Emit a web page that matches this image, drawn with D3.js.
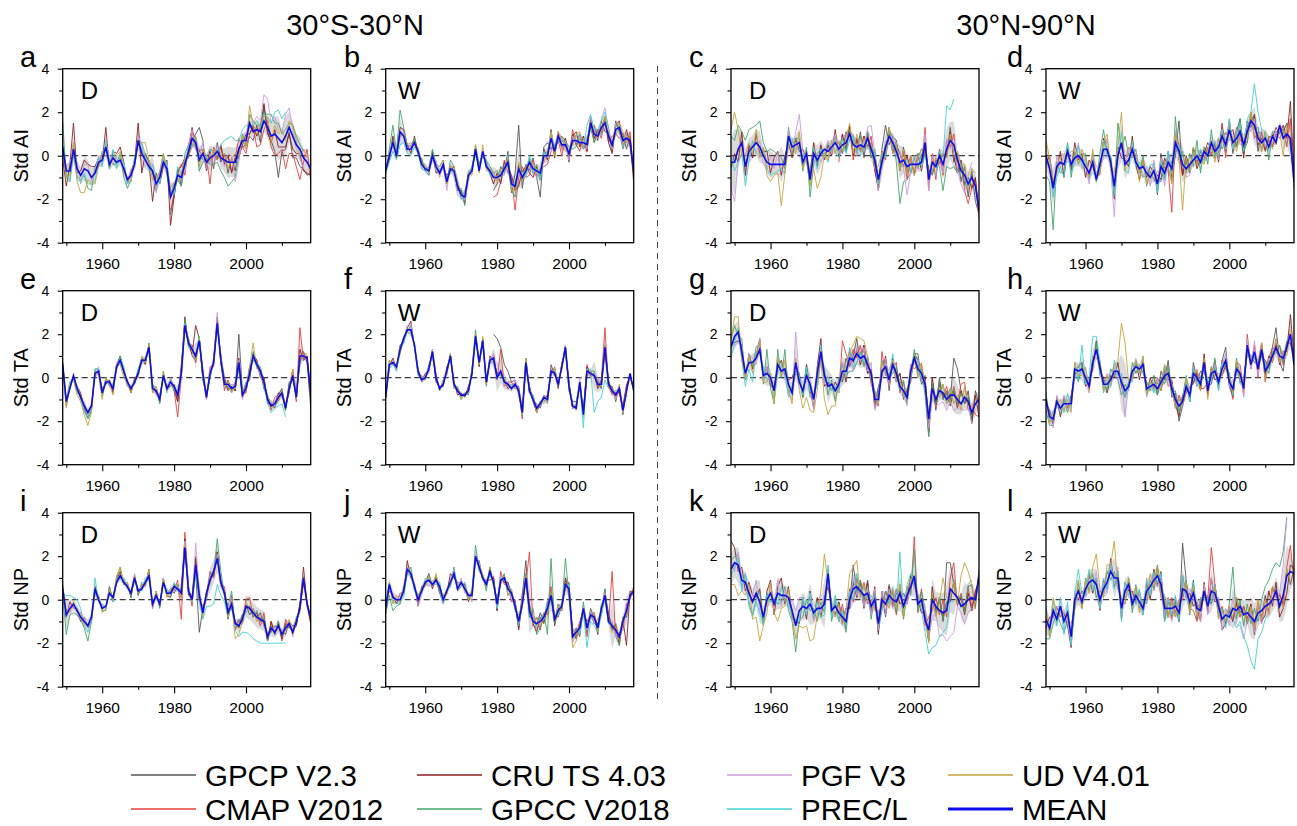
<!DOCTYPE html>
<html>
<head>
<meta charset="utf-8">
<script src="https://cdn.jsdelivr.net/npm/d3@7"></script>
<style>
body { margin: 0; background: #fff; }
svg text { font-family: "Liberation Sans", Arial, Helvetica, sans-serif; fill: #000; }
</style>
</head>
<body>
<div id="chart"></div>
<script>
var years = d3.range(1949, 2019);
var xMajor = [1960, 1980, 2000];
var xMinor = [1950, 1970, 1990, 2010];
var yMajor = [-4, -2, 0, 2, 4];
var yMinor = [-3, -1, 1, 3];
var regionTitles = ["30°S-30°N", "30°N-90°N"];
var rowTitles = ["Std AI", "Std TA", "Std NP"];
var seasons = ["D", "W", "D", "W"];
var letters = ["a", "b", "c", "d", "e", "f", "g", "h", "i", "j", "k", "l"];

var seriesNames = ["GPCP V2.3", "CMAP V2012", "CRU TS 4.03", "GPCC V2018", "PGF V3", "PREC/L", "UD V4.01"];
var seriesStart = [1979, 1979, 1949, 1949, 1949, 1949, 1949];
var seriesColors = ["#555555", "#e8403e", "#8c1f1f", "#3fa66d", "#c99be0", "#3fd3d1", "#c9a33a"];
var meanColor = "#0c0cee";

// MEAN of each panel, 1949-2018 (standardized units)
var a_mean = [0.4,-0.7,-0.7,0.3,-0.6,-0.9,-0.6,-0.7,-1.0,-0.8, -0.3,-0.2,0.4,-0.4,-0.1,-0.3,-0.2,-0.6,-1.1,-0.9, -0.4,0.7,0.1,-0.2,-0.5,-0.7,-1.3,-1.0,-0.3,-0.6, -1.9,-1.5,-0.9,-1.0,-0.4,0.2,0.8,0.6,-0.2,0.1, -0.3,-0.1,0.0,0.2,-0.1,-0.2,-0.3,-0.3,-0.3,0.3, 0.7,0.7,1.5,1.1,1.2,1.1,1.6,1.3,0.9,1.0, 0.8,0.6,0.9,1.3,0.9,0.5,0.3,-0.1,-0.3,-0.6];
var b_mean = [-0.7,0.0,0.6,0.0,1.1,0.9,0.3,0.3,0.6,0.2, -0.4,-0.6,-0.7,0.0,-0.5,-0.8,-0.4,-1.2,-0.6,-0.7, -1.4,-1.8,-1.9,-0.9,-0.7,0.3,-0.7,0.2,-0.5,-0.7, -1.0,-1.0,-0.9,-0.6,-0.3,-1.3,-1.4,-0.6,-1.0,-0.7, -0.3,-0.6,-0.7,-0.8,0.0,0.0,0.8,0.2,0.9,0.5, 0.5,0.1,0.7,0.7,0.6,0.6,0.5,1.5,1.0,0.9, 1.3,1.5,0.9,0.5,1.2,1.3,0.7,0.8,0.7,-0.7];
var c_mean = [-0.3,-0.3,0.3,0.6,-0.5,0.2,0.4,0.6,0.4,0.0, -0.3,-0.4,-0.4,-0.4,-0.4,-0.4,0.9,0.4,0.5,0.6, -0.3,0.1,-1.1,0.1,-0.2,0.1,0.3,0.2,0.4,0.6, 0.3,0.5,0.6,1.0,0.5,0.4,0.5,0.4,0.8,0.3, -0.2,-1.1,-0.3,0.4,0.9,0.6,0.2,-0.3,-0.2,-0.5, -0.4,-0.4,-0.4,-0.3,0.6,-1.1,-0.3,-0.5,0.0,-0.4, 0.3,0.7,0.5,-0.2,-0.7,-0.9,-1.3,-1.0,-1.4,-2.5];
var d_mean = [0.0,-0.6,-1.5,-0.5,-0.3,-0.4,0.2,-0.4,-0.1,0.0, -0.2,-0.5,-0.8,-0.3,-1.1,-0.4,0.3,0.3,-0.3,-1.4, 0.0,0.6,-0.4,-0.2,0.3,-0.3,-0.6,-0.5,-0.8,-1.0, -0.7,-1.3,-0.5,-0.8,-0.3,-0.6,0.6,0.2,-0.4,-0.6, -0.4,-0.2,0.0,-0.3,0.2,0.0,0.6,0.2,0.4,0.9, 0.5,1.2,0.6,0.8,1.1,0.5,1.1,1.6,1.4,0.8, 0.6,0.8,0.4,0.9,0.6,1.4,0.8,1.0,0.8,-1.2];
var e_mean = [0.6,-1.1,-0.5,0.1,-0.5,-0.9,-1.3,-1.6,-1.3,0.2, 0.3,-0.7,-0.2,-0.2,-0.5,0.5,0.8,0.3,-0.2,-0.5, -0.2,0.2,0.8,0.8,1.4,-0.5,-0.6,-1.0,0.1,-0.5, -0.2,-0.4,-0.8,0.2,2.4,1.6,1.3,1.0,1.7,0.2, -0.9,0.2,0.7,2.5,0.8,-0.3,-0.3,-0.5,-0.4,0.7, -0.8,-0.5,0.2,1.0,0.6,0.3,-0.2,-1.0,-1.3,-1.2, -0.9,-0.7,-1.4,-0.5,0.1,-0.9,1.0,1.0,0.9,-0.7];
var f_mean = [-0.9,0.6,0.7,0.5,1.3,1.8,2.2,2.2,1.5,0.3, -0.1,0.0,0.4,1.2,0.0,-0.5,-0.3,0.3,1.0,-0.3, -0.6,-0.8,-0.8,-0.6,0.2,1.9,0.7,1.7,-0.2,0.8, 0.9,0.0,0.3,-0.2,-0.3,-0.5,-0.3,-0.6,-1.6,0.7, -0.6,-1.0,-1.4,-1.2,-0.9,-1.0,0.3,0.2,-0.3,0.5, 1.4,-0.4,-1.3,-1.4,-0.2,-1.7,0.3,0.2,0.1,-0.3, -0.3,1.4,-0.3,-0.6,-0.8,-0.5,-1.5,-0.6,0.2,-0.6];
var g_mean = [1.4,1.9,2.1,1.2,0.2,0.7,0.7,0.9,1.3,0.1, 0.2,0.0,-0.6,0.6,0.3,0.4,-0.3,-0.7,0.7,-0.2, -0.6,0.1,-0.3,-1.0,0.2,1.2,0.1,-0.4,-0.3,-0.6, -0.3,0.3,0.3,0.9,0.8,1.1,0.9,1.0,0.6,0.2, -1.0,-1.0,0.3,0.5,-0.1,0.6,0.2,-0.4,-0.6,-0.9, 0.3,0.9,0.4,0.2,-0.3,-1.9,-0.5,-1.0,-0.6,-0.7, -1.0,-0.8,-0.8,-1.0,-1.2,-0.9,-1.1,-1.6,-1.2,-1.0];
var h_mean = [-1.0,-1.8,-1.9,-1.1,-1.4,-1.2,-1.2,-1.2,0.4,0.3, 0.4,0.0,-0.4,0.7,1.3,0.5,-0.3,-0.3,-0.1,0.3, 0.3,-0.2,-0.6,-0.4,0.3,0.5,0.4,0.6,-0.5,-0.4, -0.3,-0.5,-0.2,0.1,0.2,-0.5,-1.0,-1.3,-1.1,-0.4, -0.8,0.2,0.0,-0.3,0.7,-0.6,0.2,0.3,-0.2,0.4, 0.8,-0.2,-0.5,0.4,0.2,-0.5,1.5,0.6,1.2,0.4, 1.3,0.3,0.6,1.0,1.4,1.0,0.9,1.4,2.0,0.6];
var i_mean = [0.5,-0.7,-0.4,-0.2,-0.5,-0.8,-1.0,-1.2,-0.8,0.5, 0.0,-0.4,-0.3,0.3,0.1,0.8,1.1,0.8,0.6,0.3, 1.0,0.4,0.5,0.8,1.1,-0.2,0.2,-0.2,0.8,0.3, 0.3,0.6,0.5,0.3,2.4,0.4,0.0,1.6,0.2,-0.6, 0.3,0.9,1.3,1.9,0.8,0.3,-0.6,-0.2,-1.1,-1.2, -0.9,-0.3,-0.4,-0.6,-0.8,-0.9,-1.0,-1.7,-1.3,-1.5, -1.2,-1.6,-1.3,-1.1,-1.5,-1.0,-0.4,1.0,-0.2,-0.8];
var j_mean = [-0.4,0.7,0.1,0.0,0.0,0.4,1.4,1.2,0.6,0.0, 0.4,0.8,0.9,0.7,0.9,0.6,0.0,0.4,0.8,1.2, 0.5,0.8,0.5,0.2,0.2,2.0,1.5,1.0,0.7,1.3, 0.8,-0.2,0.9,1.0,0.5,0.3,-0.3,-1.0,-0.2,1.0, -0.5,-1.0,-1.1,-1.0,-0.8,-0.4,0.2,-0.9,-0.5,-0.3, 0.7,0.5,-1.7,-1.5,-1.3,-0.4,-1.3,-0.7,-0.8,-1.3, -0.4,0.2,-1.0,-1.2,-1.4,-1.7,-1.0,-0.5,0.2,0.4];
var k_mean = [1.4,1.7,1.6,0.9,0.8,0.3,-0.1,0.3,-0.1,-0.8, 0.0,0.3,-0.2,0.3,0.2,0.2,0.1,-0.5,-1.2,-0.5, -0.3,-0.4,-0.2,-0.6,-0.4,-0.4,-0.2,1.2,-0.5,-0.3, -0.6,-0.8,-1.0,0.0,0.5,0.6,0.4,0.2,0.3,-0.3, 0.0,-1.1,0.0,-0.2,0.2,0.0,-0.1,0.3,-0.3,0.2, 0.6,1.1,-0.2,0.0,-0.9,-1.4,0.0,-0.3,-0.5,-0.6, -0.5,0.5,0.3,0.1,-0.3,-0.2,0.0,0.1,0.0,1.1];
var l_mean = [-0.9,-1.3,-0.5,-0.9,-0.3,-1.0,-0.6,-1.7,0.0,0.4, -0.1,0.5,0.8,0.9,0.7,0.0,0.5,0.8,1.3,1.0, 1.0,-0.4,0.4,0.7,-0.2,0.2,-0.1,-0.4,0.4,0.6, 0.9,1.1,0.7,-0.4,-0.4,-0.4,-0.3,-0.6,0.5,0.4, -0.1,0.3,-0.4,-0.5,0.4,-0.3,0.4,0.3,-0.3,-0.9, -0.7,-0.8,-0.4,-0.5,-0.3,-0.7,-0.6,-0.8,-1.0,-0.6, -0.5,-0.3,-0.2,0.0,0.4,-0.3,0.2,1.1,1.3,1.2];

// each dataset: departure from the panel MEAN in tenths, from its first year
var a_gpcp = [-8,-2,3,-4,2,-3,-1,4,15,6, -4,3,-6,4,-2,3,-5,2,-4,1, -3,-2,-6,-4,2,-5,7,-3,-2,-8, -18,-4,-6,-2,-10,-6,-8,-5,-6,-2];
var a_cmap = [-6,-4,2,6,-5,3,4,-2,5,-3, 2,-12,4,-3,5,-2,3,-4,2,5, -3,-6,-5,2,-8,-6,-4,3,-5,-10, -7,-3,-15,-12,-8,-10,-14,-2,6,-6];
var a_cru = [-5,-7,3,12,-2,2,4,3,5,3, 2,-1,9,-2,3,4,6,3,-2,2, 1,8,-9,3,2,-14,5,-3,-2,4, -13,-4,2,5,3,-2,5,-3,4,2, -3,4,2,-4,6,-2,3,-5,2,-4, -2,3,-5,3,-3,2,8,-2,-3,2, -4,-2,-5,-3,-6,-4,-2,-6,-5,-3];
var a_gpcc = [12,-3,-5,-2,-4,-2,-3,-8,-6,3, -2,4,-1,2,-3,-1,3,-4,-4,-2, 3,-2,2,1,3,-1,-3,2,4,-3, 1,2,-2,-4,5,3,-4,2,-5,-4, 2,-3,-4,-5,-6,-8,-11,-9,-7,-3, 3,-2,4,5,2,3,4,6,10,5, 7,4,3,2,5,4,2,3];
var a_pgf = [-3,2,4,-2,3,-4,2,3,-2,1, 3,-2,2,4,-3,2,-1,3,-2,3, -2,2,4,-3,2,3,-4,2,-3,2, 3,-2,1,3,-3,2,4,-3,2,5, -3,2,-4,3,2,-3,4,3,-9,-6, 2,3,-2,4,6,5,12,13,6,8, 4,5,10,9,3,-2,-4,-5];
var a_precl = [3,-2,-4,2,-5,-3,-2,-6,-3,-4, 2,-3,3,-2,4,-3,2,3,-2,-3, 3,-1,5,2,-2,3,4,-3,2,3, 2,-3,4,2,-2,3,-4,3,2,-3, 3,4,2,-2,6,9,11,12,10,4, 5,7,-2,3,4,2,3,5,6,10, 13,11,11];
var a_ud = [-4,-3,-2,3,-6,-8,-11,-4,-3,-5, -2,3,-4,2,-3,3,4,-2,1,-3, 2,-2,5,8,3,-4,2,3,4,-2, 4,3,-3,2,3,-2,-4,3,-3,2, 3,-2,3,-4,2,3,-3,2,4,-3, 2,-4,8,3,-2,4,2,5,-3,4, 2,6,-2,3,5,2,-3,4,2];

var b_gpcp = [-6,-3,4,-2,5,-4,6,20,-5,3, -4,5,-3,-11,4,6,-5,3,-3,4, 2,-4,3,-2,4,-3,2,-3,4,-2, 3,-4,2,-3,4,-2,3,-5,2,-6];
var b_cmap = [-9,-8,-3,4,-5,3,-11,-4,5,-3, -6,4,-3,2,-5,-4,-6,3,-2,-5, 3,-3,5,-2,-4,3,-3,2,-4,3, -5,2,-3,4,-2,-5,3,-2,4,-3];
var b_cru = [1,-2,3,-1,2,3,2,-2,3,-1, 2,-1,-2,2,-3,1,-2,3,-1,2, -2,2,-3,-1,2,-2,3,-2,2,-1, -3,2,-4,3,-2,4,-2,-8,3,2, -5,-4,2,-3,3,-2,4,-3,2,-2, 3,-2,2,4,-2,3,-3,2,-2,3, -2,3,-3,-4,2,3,-2,4,-3,-2];
var b_gpcc = [-2,3,8,2,10,4,2,1,2,-2, 3,-1,2,3,1,3,2,-1,4,2, -2,3,-4,2,1,2,3,-1,3,2, 2,3,-1,2,-2,-3,-5,2,3,-1, 2,-2,3,-3,1,2,-4,2,-3,2, 2,3,-4,-3,2,-2,3,-2,-4,2, -3,2,4,-2,3,-2,-4,2];
var b_pgf = [-1,2,-2,1,-3,2,-1,2,-2,1, -2,2,-1,-2,3,-2,-1,-4,2,-3, -4,-2,-1,-3,2,-2,1,-2,2,-2, 3,-2,2,-3,1,-2,2,-3,2,-2, -4,2,-3,2,-3,2,-1,3,2,-2, 2,-3,2,-1,3,2,-2,3,2,-1, 4,7,3,-2,3,2,-2,3];
var b_precl = [-1,-3,-4,-2,-6,-3,-2,-3,-2,-1, -2,-1,-2,1,-2,2,-1,2,-2,1, 2,-2,3,-1,2,-3,2,-1,2,-2, 2,-1,2,-2,3,-2,2,-1,2,-3, 3,-2,1,-3,2,-1,3,2,-2,3, -1,2,-2,2,4,-3,9,4,2,3, 3,5,4];
var b_ud = [2,-1,1,2,-2,1,2,3,-2,2, 1,2,-1,1,-2,3,2,-1,1,2, 3,-1,2,1,-2,2,-1,3,-2,1, 2,-2,3,-1,2,-3,-2,3,-1,2, -2,3,-1,2,-3,2,3,-2,2,3, -3,2,-2,3,5,-2,2,-3,4,2, -2,3,-1,2,-3,2,4,-2,3];

var c_gpcp = [3,-4,5,-3,4,-2,6,-5,3,-4, 5,-3,6,10,-4,3,5,-4,6,-3, 4,-5,3,6,-4,5,-6,4,-3,5, -4,6,-8,3,-5,4,-6,3,-7,-2];
var c_cmap = [-6,5,-3,4,-7,3,-2,5,-4,6, -3,-5,4,-6,3,-4,5,-3,4,-6, 3,-4,5,-3,7,-5,4,-6,3,-5, 4,-3,5,-6,4,-7,-9,-5,3,-4];
var c_cru = [-3,4,-6,5,-4,3,-5,4,-3,2, 5,-4,3,6,-5,4,-3,-5,3,-4, 6,-4,3,5,-3,4,-5,3,-4,6, -3,5,-4,3,-5,4,-3,5,-4,3, -5,-4,5,-3,4,-5,3,4,-3,5, -4,3,5,-4,-3,4,-5,3,-4,5, -3,4,-5,-6,5,-4,3,-5,4,-1];
var c_gpcc = [12,10,11,5,12,10,9,8,12,6, 5,7,6,4,3,-2,4,-3,3,2, -4,3,-8,-5,3,2,-3,4,-2,3, -2,3,-4,2,3,-3,4,-2,3,-4, 3,-5,2,-4,3,2,-5,-19,-10,-6, -4,3,-2,4,-5,3,-4,2,-5,-12, -8,-13,-10,-6,4,-5,3,-4];
var c_pgf = [-12,-18,-6,-5,3,-4,2,-5,3,-4, -3,4,-2,5,-3,-4,3,-2,6,13, 5,-3,4,-2,3,-4,-2,5,-3,4, -2,3,4,-3,5,-4,3,-2,5,11, 3,-5,-4,3,-3,4,-2,5,-4,-13, -3,4,-2,-3,4,-5,3,4,-3,-4, 5,-4,3,-5,-6,-8,4,7];
var c_precl = [4,-4,-6,-5,-9,-4,3,-5,-4,3, -3,-5,-4,-3,-2,-4,-3,4,-2,-3, 3,-4,-2,3,-4,2,-3,-5,3,-4, -4,3,-5,-3,4,-2,-5,3,-4,2, 3,-2,4,-5,3,-3,4,-2,-3,3, -4,3,5,-2,-6,3,-4,-4,2,3, 20,14,21];
var c_ud = [15,23,9,-6,5,4,-3,6,-5,4, -6,-8,-5,-4,-19,-4,-5,3,-4,5, -3,-2,-3,-7,-13,-11,-2,-4,3,-5, 4,-3,2,5,-4,6,-3,4,-5,3, -4,6,5,-3,4,-5,3,-4,5,-3, 4,-5,3,6,-4,3,-5,4,-3,5, -4,3,-5,4,2,5,-3,4,6];

var d_gpcp = [4,-5,6,-3,5,-4,-6,14,-5,3, -4,6,-3,5,-4,3,-6,4,-5,6, -3,4,-5,3,6,-4,5,-3,4,-6, 5,-4,3,-5,4,-6,3,5,-4,2];
var d_cmap = [-5,4,-6,3,-4,-20,4,3,-5,4, -3,5,-4,6,-3,4,-5,3,-4,5, -6,4,-3,5,-4,3,-5,4,-6,3, 4,-5,3,-4,5,-3,4,-6,9,-3];
var d_cru = [-4,6,2,-1,5,-6,1,-3,7,-2, 3,-5,6,-2,1,-4,5,-1,2,-6, 4,-7,2,-3,6,-1,-5,3,-2,5, -1,4,-6,7,-2,3,-4,1,-5,6, -2,5,-6,2,-1,6,-3,4,-7,1, 5,-2,6,-4,1,-6,3,-1,5,-3, 2,-6,5,-1,7,-4,6,-2,17,4];
var d_gpcc = [-9,-6,-19,2,-5,-3,4,-6,3,-4, 2,6,-3,4,-1,5,9,-2,3,-5, 15,-3,13,2,-4,6,-2,5,-6,3, -4,2,-7,5,-3,-6,12,-4,6,-2, 5,-3,7,-5,2,-4,6,-3,4,-6, 3,-5,2,-4,6,-3,-5,4,-2,5, -4,3,-6,2,5,-3,4,-5];
var d_pgf = [-6,3,-4,5,-2,4,-5,2,-3,6, -4,2,-5,3,6,-2,-4,5,-3,-14, 3,-5,2,6,-3,4,-2,-5,3,-4, 5,-2,4,-6,3,-1,5,-3,2,-4, -5,3,-2,6,-4,2,-3,5,-6,3, -2,5,-3,4,-6,2,4,-5,3,-2, 6,-4,2,-3,5,-6,3,2];
var d_precl = [-3,2,-4,-5,-2,-6,3,-4,-2,5, -3,4,-2,-5,3,-1,4,-3,2,-4, -2,5,-3,-6,4,-2,3,-5,-1,6, 3,-4,2,-3,5,-2,-4,3,-1,2, -3,4,-2,6,-5,2,-3,4,-4,3, -2,5,-3,2,4,-3,6,4,19,12, 6,3,-2];
var d_ud = [7,5,4,-3,2,5,-2,6,3,-4, 5,4,-2,6,2,-5,3,7,-4,6, 5,14,-3,6,-2,4,-6,3,-5,2, -4,6,-3,5,-2,-7,4,-3,-21,5, -3,6,-4,2,-6,3,-2,-5,4,-3, 6,-4,3,-6,-2,5,-3,4,-5,2, -4,3,5,-6,2,-3,-8,4,-2];

var e_gpcp = [1,-2,-3,4,-1,2,-3,-2,1,-3, 2,-2,1,-1,2,3,-2,1,-2,13, 2,-1,3,-2,1,-3,2,-1,1,-2, 1,2,-1,3,-2,1,-3,2,-2,-7];
var e_cmap = [2,-2,-10,-2,3,-1,2,-3,1,-2, -1,3,-2,2,-1,-3,2,-1,2,-3, 1,-2,3,-1,2,-1,-3,2,-2,3, 1,-2,2,-1,3,-2,13,-2,1,-3];
var e_cru = [1,-2,2,-1,1,2,-1,-3,-2,1, -1,2,-1,1,-2,1,2,-1,1,-2, 2,-1,1,-2,1,2,-1,2,-1,1, -2,1,-3,2,4,-1,-2,14,1,-2, 1,-2,2,3,-1,2,-3,1,-2,2, -1,2,-3,1,2,-1,2,-2,1,-1, 2,-1,1,-2,2,-1,3,-2,1,-2];
var e_gpcc = [-2,1,3,-1,-2,1,-3,-2,-1,2, 1,-1,2,-2,1,-1,2,1,-2,1, -1,2,1,-1,2,-2,1,-2,2,-1, 1,-2,2,-1,3,-2,1,-1,2,-3, 2,-1,1,-2,2,1,-2,2,-1,-2, 1,3,-2,2,-1,2,-3,1,2,-1, -2,1,-1,2,-1,2,-2,1];
var e_pgf = [1,-1,2,-2,1,-1,2,-1,1,-2, 2,-1,1,-2,1,2,-1,1,-2,1, -1,1,-2,2,-1,1,-2,2,-1,1, 2,-1,1,-2,-1,2,-1,1,-2,1, -1,2,-1,5,-2,1,-1,2,-1,1, -2,1,2,-1,1,-2,1,-1,2,-1, 1,-2,1,-1,2,-1,1,-2];
var e_precl = [1,-1,3,-2,1,-1,-2,-3,-1,2, 1,-2,1,-1,2,-1,1,2,-1,1, -1,2,-1,1,-2,1,2,-1,1,-2, 1,-1,2,-1,1,-2,1,-1,2,-1, 1,-2,1,-1,2,-1,1,-2,1,-2, 2,-1,1,-2,1,2,-1,-2,-3,-2, -4,-5,-4];
var e_ud = [-1,-3,2,-2,-3,-2,-4,-6,-3,1, -2,-3,2,-1,-3,1,-2,-3,-1,-2, 1,-2,2,-1,1,-2,2,-1,2,-1, -2,1,-1,2,-1,2,-1,-2,1,2, 1,-1,2,-1,2,-1,1,-2,2,-1, 2,-1,3,6,-2,1,-1,2,-1,1, -2,1,2,-1,3,4,-2,1,2];

var f_gpcp = [11,18,11,8,6,3,2,-2,1,-3, 2,-1,2,-2,1,-2,3,-1,2,-1, 1,-2,2,3,-1,2,-2,1,-1,2, -2,1,-1,2,-3,1,-2,2,-1,1];
var f_cmap = [2,-1,10,-2,1,3,-2,1,-3,2, -1,2,-2,1,-1,2,-2,3,-1,2, -2,1,-1,2,-2,1,3,-2,1,-1, 2,9,-1,-2,1,-2,2,3,-2,1];
var f_cru = [1,-1,2,-1,2,-2,1,4,-1,1, -1,2,-1,1,-2,1,-1,2,-1,1, -2,1,-1,2,-1,1,-2,1,-1,2, -1,2,-1,1,-2,1,-1,2,1,-1, 2,-1,-2,1,-1,2,-1,1,-2,1, -1,2,-1,1,-2,1,2,-1,1,-2, 1,-1,2,-1,1,-2,1,2,-1,1];
var f_gpcc = [-1,2,-1,1,-2,1,-1,2,-1,-2, 1,-1,2,-2,1,-1,2,-1,1,-2, 2,-1,1,-2,1,3,-1,1,-2,1, -1,1,-2,1,-1,2,-1,1,-2,2, -1,2,-1,1,-2,1,-1,2,-1,1, -2,1,-1,2,-1,1,-2,1,2,-1, 1,-2,1,-1,2,-1,1,-2];
var f_pgf = [2,-1,1,-2,1,-1,2,3,-1,1, -1,1,-2,1,2,-1,1,-2,1,-1, 1,-2,1,-1,2,-1,1,-2,1,-1, 2,-1,1,-2,1,-1,2,-1,1,-2, 1,-1,2,-1,1,-2,1,-1,2,-1, 1,-2,1,-1,2,-1,1,-2,1,3, -1,2,-1,1,-2,1,-1,2];
var f_precl = [1,-2,-1,-2,-1,-2,-1,-2,1,-1, 2,-1,1,-2,1,-1,2,-1,1,-1, 1,-2,1,-1,2,-1,1,-2,1,-1, -2,1,-1,2,-1,1,-2,1,-1,2, -1,2,-1,1,-2,1,-1,2,-1,1, -2,1,-1,2,-1,-6,1,2,-17,-8, -6,-15,-2];
var f_ud = [-1,2,-1,1,-2,1,-1,-2,1,-1, 2,-1,1,-2,1,-1,2,-1,1,-2, 1,-2,1,-1,2,1,-1,2,-1,1, -2,1,-1,2,-1,1,-2,1,-1,2, -1,1,-2,1,-3,1,-1,2,-1,1, -2,1,-1,2,-1,1,-2,1,-1,2, -1,1,-2,1,-1,2,-1,1,-2];

var g_gpcp = [3,-5,6,-4,2,7,-3,5,-4,2, -3,6,-2,4,-5,3,-2,6,-4,3, -5,2,7,-3,4,-8,2,-5,6,-3, 4,-2,17,14,6,-3,5,-4,6,-2];
var g_cmap = [-4,14,8,-3,5,-2,6,-4,3,-5, 2,-3,9,-4,3,-2,5,-3,4,-2, 3,-5,2,4,-3,-6,5,-4,3,-2, 6,-3,4,-2,9,7,-4,3,-5,-8];
var g_cru = [2,-3,-4,3,-2,4,-3,1,5,-2, 3,-4,2,-1,5,-3,2,7,-2,4, -3,5,-2,-4,3,6,-5,2,-3,4, -2,4,-5,3,-1,2,-3,5,-4,2, -4,3,-2,5,-3,2,-4,6,-2,3, -3,2,4,-5,3,-2,5,-3,4,-2, 3,-5,2,-4,6,-3,2,-5,4,-8];
var g_gpcc = [4,5,-2,6,-3,4,-2,5,3,-4, 11,-5,-6,7,-3,9,-4,3,-5,2, -3,4,-6,2,-5,-2,3,-4,2,-5, 3,-4,-2,-6,-5,-4,3,-5,2,-3, 4,-2,5,-3,2,-4,3,-2,5,-3, -2,4,-3,2,-5,-8,3,-2,4,-3, 2,-4,3,-2,5,-3,2,-4];
var g_pgf = [2,-4,-5,3,-2,4,2,-3,5,-2, 3,-2,4,-3,2,-4,-5,-3,14,2, 4,-3,2,-5,3,-2,-4,5,-3,2, -2,4,-3,2,-5,3,-2,4,-3,5, -5,3,-2,4,-3,2,-4,3,-2,-4, 3,-2,4,-3,2,-4,-5,-3,-6,-4, -5,-3,-7,-4,-2,-6,-3,-5];
var g_precl = [-5,-3,2,-4,-6,-3,-9,3,-2,4, -3,2,-5,-4,3,-2,-6,2,-4,3, -2,4,-3,2,-5,3,-2,4,-3,2, -4,3,-2,5,-3,-4,2,-3,4,-2, 3,-2,4,-3,2,5,-4,3,-2,4, -3,2,5,-4,-2,3,-5,2,-3,4, -2,3,-4];
var g_ud = [3,9,7,-4,-2,3,-5,2,4,-3, -4,2,-6,3,-2,4,-3,-5,2,-4, -8,-10,-12,-6,-8,-4,-11,-13,-10,-7, 2,-3,4,3,7,8,9,7,4,-2, 3,-2,4,-3,5,2,-4,3,-2,4, -3,2,-4,5,-2,3,-4,2,-3,4, -2,3,-4,2,-3,5,-2,4,-3];

var h_gpcp = [4,-3,5,-2,6,-4,3,-7,-2,4, -3,5,-2,6,-4,3,-5,2,-3,4, 6,-2,-4,3,-2,5,-3,4,-5,2, -3,5,-2,4,9,-3,-6,2,-4,3];
var h_cmap = [-3,5,-2,4,-6,3,-4,5,-2,-3, 4,-5,3,-2,-12,4,-3,5,-2,4, -3,2,-5,3,4,-3,5,-2,3,-4, 2,-5,3,4,-2,5,-3,2,-4,3];
var h_cru = [-2,3,-3,2,-4,3,-2,4,-3,2, 3,-4,2,-3,4,-2,3,-4,2,-3, 4,-2,-3,2,-4,3,-5,2,-3,4, -2,3,-4,2,-3,4,-2,-5,3,-2, 3,-4,2,-3,4,-2,3,-4,2,-3, -2,4,-3,2,-4,3,-2,4,-3,2, 3,-2,4,-3,2,-4,3,-2,9,4];
var h_gpcc = [-5,-4,-3,2,-3,2,-4,3,-2,-5, 2,-3,4,-2,3,-4,2,-3,5,-2, -4,-6,3,-2,4,-3,2,-4,3,-2, 4,-3,2,-4,3,-2,4,-3,2,5, -3,2,-4,3,-2,4,-3,6,-2,3, -4,2,-3,5,-2,3,-4,2,-3,4, -2,3,-4,2,-3,5,-2,3];
var h_pgf = [-3,2,-4,3,-2,4,-3,2,-5,3, -2,4,-3,2,-4,3,-2,5,-3,2, -4,3,-12,2,-3,4,-2,3,-4,2, -3,4,-2,3,-5,2,-4,3,-2,4, -2,3,-4,2,-3,5,-2,3,-4,2, 3,-2,4,-3,2,-4,3,-2,5,-3, 2,-4,3,-2,4,-3,2,-5];
var h_precl = [3,-2,4,-3,2,-4,5,-2,3,-4, 11,-3,4,12,6,3,-4,2,-3,5, -2,4,-3,2,-5,3,-2,4,-3,2, -4,3,-2,5,-3,2,-4,3,-2,4, -3,2,-4,3,-2,5,-3,2,-4,3, -2,4,-3,2,-5,3,-2,4,-3,2, -4,3,-2];
var h_ud = [2,-3,3,-2,4,-3,2,-4,3,-2, -3,5,-2,3,-4,2,-3,4,-2,3, 5,27,22,2,-4,3,-2,4,-3,2, -2,3,-4,5,-3,2,-4,3,-2,4, 3,-2,4,-3,2,-4,3,-2,4,-3, -4,3,-2,4,-3,2,-4,3,-2,4, 3,-4,2,-3,4,-2,3,-4,2];

var i_gpcp = [2,-3,1,-2,3,2,-1,-3,-17,2, -3,2,-1,3,-2,1,-3,2,-1,3, -2,1,-3,2,-1,3,-2,1,-2,3, -1,2,-3,1,3,-2,2,-1,1,-2];
var i_cmap = [3,-2,4,-12,7,2,-3,4,-2,3, -2,4,-3,2,-1,3,-2,4,-3,2, -1,3,5,-2,2,-3,4,-2,3,-1, 2,-3,4,-2,3,-1,2,-3,1,-2];
var i_cru = [2,-1,3,-2,1,-2,2,-1,-2,1, -1,2,-1,3,-2,1,2,-1,1,-2, 1,-2,2,-1,3,-2,1,-1,2,-1, -2,1,-1,2,4,-2,1,3,-2,1, -1,2,-2,3,-1,1,2,-2,1,-1, 2,-1,1,-2,2,-1,1,-2,3,-1, 1,-2,2,-1,1,-2,2,5,-1,-3];
var i_gpcc = [-2,-9,-3,-4,-2,-1,-3,-7,-2,-1, 2,-1,-2,3,-1,2,4,-1,2,-2, 1,-2,3,-1,2,-1,2,-2,1,-1, 2,-1,2,-2,3,-1,2,-2,-1,1, -2,3,-1,9,5,-1,3,6,-2,1, 2,-3,1,-2,3,-1,2,-2,1,-1, 2,-1,1,-2,1,2,-1,2];
var i_pgf = [1,-1,2,-2,1,-1,2,-1,1,-2, -1,2,-1,1,-2,1,-1,2,-1,1, 2,-1,1,-2,1,-2,1,-1,2,-1, 1,-2,1,-1,3,2,-1,10,2,-1, -1,2,-1,2,-2,1,-1,2,-1,1, -2,1,-1,2,-1,1,-2,1,-1,2, -1,2,-1,1,-2,1,-1,2];
var i_precl = [-3,9,6,3,5,4,-2,-3,-2,5, -1,2,-1,1,-2,1,-1,2,-1,1, -2,1,-1,2,-1,1,-2,1,-1,2, -1,2,-1,1,-2,1,-1,-4,-2,-3, -6,-12,-15,-12,-6,-4,-2,-1,-3,-5, -6,-12,-12,-12,-11,-11,-10,-3,-7,-5, -8,-4,-7];
var i_ud = [-1,2,-2,1,-1,2,-2,1,-1,-2, 1,-2,-1,2,-1,3,4,-1,2,-1, 1,-1,2,-2,3,-1,2,-1,1,-2, 2,-1,1,-2,1,-1,2,-1,1,-2, 1,-2,1,-1,2,-1,-2,1,-7,-4, -1,2,-1,1,-2,1,-1,2,-1,1, -2,1,-1,2,-1,1,-2,1,-1];

var j_gpcp = [2,-3,1,-2,3,-1,2,-3,4,8, -3,2,-1,4,-2,3,-1,2,-3,1, -2,3,-1,2,-4,1,-2,3,-1,2, -3,1,4,-2,3,-1,2,-3,1,-2];
var j_cmap = [3,-2,4,-3,2,-4,3,-2,5,-3, 27,-2,3,-4,2,-3,4,-2,3,-1, 2,-3,4,-2,3,-1,-4,2,-3,4, -2,3,-1,25,-3,2,-4,3,-2,2];
var j_cru = [2,-3,1,-2,3,-1,4,-2,1,-3, 2,-1,3,-2,1,-3,2,-1,4,-2, 3,-1,2,-3,1,-2,3,-1,2,-4, 2,-3,1,-2,3,-1,2,-4,1,-2, 3,-1,-4,2,-3,1,2,-3,1,-2, 3,-1,2,-3,1,-2,3,-1,2,-3, 1,-2,3,-1,2,-4,1,-16,2,-1];
var j_gpcc = [-3,-5,-6,-3,-2,1,-2,3,-1,2, 1,-2,3,-1,2,-3,-2,1,-2,3, -1,-2,3,-1,2,5,-2,1,-3,2, -2,3,-1,2,-3,1,-2,3,-1,2, -3,6,-5,-3,2,-12,17,-2,3,-1, 12,-3,1,-2,-2,3,-1,2,-3,1, -2,3,-1,2,-3,-4,2,-1];
var j_pgf = [1,-2,2,-1,3,-2,1,-1,2,-3, -2,1,-3,2,-1,2,-2,1,-1,2, -1,2,-2,1,-3,1,2,-1,2,-2, 1,-2,2,-1,1,-3,2,-1,2,-2, -1,2,-2,1,-1,2,-3,1,-2,2, -1,2,-3,1,-2,1,-1,2,-2,1, -2,1,-1,2,-3,1,-2,2];
var j_precl = [2,1,-1,-2,-1,-3,-2,-1,-2,1, -1,2,-1,1,-2,2,-1,1,-2,1, 2,-1,1,-2,1,-1,2,-1,1,-2, 1,-2,1,-1,2,-1,1,-2,1,-1, -2,1,-1,2,-1,2,-1,1,-2,1, -1,2,-1,1,-3,-2,-9,-3,-4,-2, -3,-2,-1];
var j_ud = [-2,1,-3,2,-1,3,-2,1,-1,2, 1,-2,2,-1,3,-1,2,-2,1,-1, 2,-1,1,-2,2,-1,1,2,-1,2, -1,2,-2,1,-3,2,-1,2,-2,1, 2,-1,3,-2,1,-2,2,-1,2,-2, 1,-3,-5,-4,2,-3,1,-2,2,-1, 2,-1,1,-3,2,-1,1,-2,1];

var k_gpcp = [5,-3,6,-4,11,-2,5,-3,6,-4, 3,-5,4,-6,5,-3,4,-2,6,-3, 5,-4,3,-6,4,-5,3,-2,6,-4, 22,12,4,-2,5,-3,6,6,-4,3];
var k_cmap = [-4,6,-3,5,-6,4,-2,6,-5,3, -4,5,-3,6,-2,4,-6,3,-5,4, -3,18,-4,5,-3,6,-5,4,-2,6, -3,5,14,-4,6,-3,5,-4,3,-2];
var k_cru = [13,7,-3,6,-4,5,3,-2,6,-3, 4,6,-5,3,8,-4,5,-3,2,-6, 4,-5,6,-3,5,-4,3,-6,2,-4, 5,-3,6,-4,3,-5,4,-6,5,-3, 6,-4,3,-5,4,-3,6,-5,3,-4, 5,-3,4,-6,3,-5,6,-4,5,-3, 4,-6,5,-3,4,-5,3,-6,4,-2];
var k_gpcc = [4,3,5,-3,4,-5,-6,-3,5,-4, 3,-4,2,-5,-3,4,-6,-5,-12,-4, -5,4,-3,2,-6,3,-4,2,-5,3, -4,3,-5,2,4,-3,5,-4,3,-6, 4,-3,-5,6,-4,3,-5,4,-6,3, -4,12,-3,4,5,-5,3,-4,6,-3, 4,-5,6,-3,5,-4,7,8];
var k_pgf = [5,-4,6,-3,4,-5,3,6,-4,5, -3,4,-2,6,-5,3,-4,5,7,6, 4,-3,5,-4,3,-2,5,-3,4,-5, 3,-4,6,-3,5,-4,2,-5,3,-4, 5,-3,4,-5,3,-4,6,-3,5,-4, 3,-5,4,-3,6,-4,-8,-3,-12,-10, -14,-22,-18,-4,-3,-9,-6,-5];
var k_precl = [-3,-2,3,-5,4,-6,-7,-4,-5,-3, 2,-4,3,-5,4,-3,-2,-4,3,-5, 4,-3,5,-2,3,-4,-5,4,-3,5, -4,3,-2,4,-5,6,-3,4,-2,5, -3,4,-5,3,-4,6,-3,19,-4,5, 6,-4,3,-5,-6,-11,-22,-18,-12,-9, -8,-6,-4];
var k_ud = [-7,-10,-14,-5,-6,4,-8,-11,-18,-4, -6,5,-4,-13,-6,-5,4,-3,-6,-7, -10,-8,-17,-12,-3,8,23,-4,3,-5, 4,-3,5,12,10,12,-3,5,-4,3, -5,6,-4,3,-6,5,-3,4,-5,3, 4,-6,5,-3,4,-6,3,-5,4,16, 6,-4,5,-3,14,19,13,6,-4];

var l_gpcp = [4,-5,6,-3,5,-4,3,-4,21,5, -3,6,-5,4,-3,5,-6,4,-2,5, -4,3,-5,6,-3,4,-5,3,-6,4, -3,5,-4,6,-3,5,-4,3,-6,2];
var l_cmap = [-5,4,-6,3,-4,5,-3,6,-5,4, -3,-8,-6,3,-4,3,20,4,-3,6, -4,5,-6,3,-5,4,-3,6,-4,5, -6,3,-4,5,-3,6,-5,4,12,-4];
var l_cru = [-4,5,-3,6,-5,4,-6,-5,3,-4, 5,-3,4,-6,3,-5,4,-3,6,-4, 3,-5,4,-3,6,-4,5,-3,4,-6, 5,-4,3,-6,4,-5,3,-4,6,-3, 4,-6,3,-5,4,-3,6,-4,3,-5, -4,3,-6,4,-5,3,-4,6,-3,4, -5,-4,6,-3,4,-5,-6,-8,3,2];
var l_gpcc = [-9,-5,-6,3,-8,-5,-4,-3,-5,4, -3,5,-4,3,-6,4,-3,5,-4,3, -5,4,-6,3,-4,5,-3,4,-6,3, -4,5,-3,6,-4,3,-5,4,-3,5, -6,3,-4,5,-3,4,-6,3,-5,4, -3,6,19,-4,3,-5,4,-3,6,-4, 5,9,11,14,13,18,20,27];
var l_pgf = [-5,3,-4,6,-3,5,-4,-3,4,-5, 3,-4,5,-3,6,-4,3,-5,4,-3, 5,-3,4,-6,3,-4,5,-3,6,-4, 3,-5,4,-3,5,-6,4,-3,5,-4, 6,-3,4,-5,3,-4,6,-3,4,-5, 3,-4,5,-6,-9,-11,-4,3,-5,4, -6,3,-5,4,-3,6,14,26];
var l_precl = [6,-4,5,-3,4,-6,5,-4,3,10, 4,-3,6,-5,3,-4,5,-3,4,-5, 3,-6,4,-5,3,-4,6,-3,5,-4, 4,-3,5,-6,4,-3,5,-4,6,-3, -4,5,-3,6,-4,3,-5,4,-3,5, -6,4,-5,-8,-7,-10,-15,-20,-22,-12, -10,-6,-4];
var l_ud = [5,-4,6,3,-5,4,-3,6,-4,5, -3,4,-5,6,14,5,-4,8,3,17, -4,5,-6,3,4,4,-5,3,-4,6, -3,4,-6,5,-4,3,-5,6,-3,4, -5,3,-4,6,-3,5,-4,3,-6,4, -3,5,-4,6,-5,3,-4,5,-3,6, -4,3,-5,6,-3,4,-6,3,-5];

var panelMeans = [a_mean, b_mean, c_mean, d_mean, e_mean, f_mean, g_mean, h_mean, i_mean, j_mean, k_mean, l_mean];
var panelSeries = [
	[a_gpcp, a_cmap, a_cru, a_gpcc, a_pgf, a_precl, a_ud],
	[b_gpcp, b_cmap, b_cru, b_gpcc, b_pgf, b_precl, b_ud],
	[c_gpcp, c_cmap, c_cru, c_gpcc, c_pgf, c_precl, c_ud],
	[d_gpcp, d_cmap, d_cru, d_gpcc, d_pgf, d_precl, d_ud],
	[e_gpcp, e_cmap, e_cru, e_gpcc, e_pgf, e_precl, e_ud],
	[f_gpcp, f_cmap, f_cru, f_gpcc, f_pgf, f_precl, f_ud],
	[g_gpcp, g_cmap, g_cru, g_gpcc, g_pgf, g_precl, g_ud],
	[h_gpcp, h_cmap, h_cru, h_gpcc, h_pgf, h_precl, h_ud],
	[i_gpcp, i_cmap, i_cru, i_gpcc, i_pgf, i_precl, i_ud],
	[j_gpcp, j_cmap, j_cru, j_gpcc, j_pgf, j_precl, j_ud],
	[k_gpcp, k_cmap, k_cru, k_gpcc, k_pgf, k_precl, k_ud],
	[l_gpcp, l_cmap, l_cru, l_gpcc, l_pgf, l_precl, l_ud]
];

var W = 1297, H = 826;
var colLeft = [62.7, 385.7, 731, 1046];
var rowTop = [68.7, 290.7, 512.7];
var letterX = [20, 344, 689, 1007];
var plotW = 248, plotH = 174;

var svg = d3.select("#chart").append("svg")
	.attr("width", W)
	.attr("height", H);

var x = d3.scaleLinear().domain([1949, 2018]).range([0, plotW]);
var y = d3.scaleLinear().domain([-4, 4]).range([plotH, 0]);

function seriesPoints(mean, dev, k) {
	return dev.map(function(v, i) {
		var yr = seriesStart[k] + i;
		return { year: yr, value: mean[yr - 1949] + v / 10 };
	}).filter(function(d) { return d.year <= 2018; });
}

function drawPanel(p) {
	var col = p % 4, row = Math.floor(p / 4);
	var left = colLeft[col], top = rowTop[row];
	var mean = panelMeans[p];
	var g = svg.append("g").attr("transform", "translate(" + left + "," + top + ")");

	g.append("clipPath").attr("id", "clip" + p)
		.append("rect").attr("width", plotW).attr("height", plotH);
	var plot = g.append("g").attr("clip-path", "url(#clip" + p + ")");

	var lines = panelSeries[p].map(function(dev, k) { return seriesPoints(mean, dev, k); });

	// grey spread band around the mean
	var band = years.map(function(yr, i) {
		var vals = [];
		lines.forEach(function(l) {
			l.forEach(function(d) { if (d.year == yr) vals.push(d.value); });
		});
		var sd = vals.length > 1 ? d3.deviation(vals) : 0;
		return { year: yr, lo: mean[i] - sd, hi: mean[i] + sd };
	});

	plot.append("path")
		.datum(band)
		.attr("fill", "#dadada")
		.attr("d", d3.area()
			.x(function(d) { return x(d.year); })
			.y0(function(d) { return y(d.lo); })
			.y1(function(d) { return y(d.hi); }));

	plot.append("line")
		.attr("x1", 0).attr("x2", plotW)
		.attr("y1", y(0)).attr("y2", y(0))
		.attr("stroke", "#3a3a3a")
		.attr("stroke-width", 1.2)
		.attr("stroke-dasharray", "6,3.5");

	var line = d3.line()
		.x(function(d) { return x(d.year); })
		.y(function(d) { return y(d.value); });

	lines.forEach(function(l, k) {
		plot.append("path")
			.datum(l)
			.attr("fill", "none")
			.attr("stroke", seriesColors[k])
			.attr("stroke-width", 0.9)
			.attr("d", line);
	});

	plot.append("path")
		.datum(years.map(function(yr, i) { return { year: yr, value: mean[i] }; }))
		.attr("fill", "none")
		.attr("stroke", meanColor)
		.attr("stroke-width", 1.6)
		.attr("d", line);

	g.append("rect")
		.attr("width", plotW).attr("height", plotH)
		.attr("fill", "none")
		.attr("stroke", "#000")
		.attr("stroke-width", 1.3);

	var xMin = g.append("g").attr("transform", "translate(0," + plotH + ")")
		.call(d3.axisBottom(x).tickValues(xMinor).tickSize(3).tickFormat(""));
	var xMaj = g.append("g").attr("transform", "translate(0," + plotH + ")")
		.call(d3.axisBottom(x).tickValues(xMajor).tickSize(6.5).tickPadding(8.5).tickFormat(d3.format("d")));
	var yMin = g.append("g")
		.call(d3.axisLeft(y).tickValues(yMinor).tickSize(3.5).tickFormat(""));
	var yMaj = g.append("g")
		.call(d3.axisLeft(y).tickValues(yMajor).tickSize(5).tickPadding(8.5).tickFormat(d3.format("d")));

	[xMin, xMaj, yMin, yMaj].forEach(function(a) {
		a.select(".domain").remove();
		a.selectAll("line").attr("stroke", "#000").attr("stroke-width", 1.1);
		a.attr("font-family", null).attr("font-size", null);
	});
	xMaj.selectAll("text").style("font-size", "15.5px");
	yMaj.selectAll("text").style("font-size", "14px")
		.text(function(d) { return d < 0 ? "-" + Math.abs(d) : d; });

	g.append("text")
		.attr("transform", "translate(" + (-42) + "," + (plotH / 2) + ") rotate(-90)")
		.attr("text-anchor", "middle")
		.attr("dy", "0.35em")
		.style("font-size", "20px")
		.text(rowTitles[row]);

	g.append("text")
		.attr("x", seasons[col] == "D" ? 18 : 12)
		.attr("y", 30)
		.style("font-size", "24px")
		.text(seasons[col]);

	svg.append("text")
		.attr("x", letterX[col])
		.attr("y", top - 2)
		.style("font-size", "29px")
		.text(letters[p]);
}

d3.range(12).forEach(drawPanel);

svg.append("text").attr("x", 355).attr("y", 35).attr("text-anchor", "middle")
	.style("font-size", "29px").text(regionTitles[0]);
svg.append("text").attr("x", 1026).attr("y", 35).attr("text-anchor", "middle")
	.style("font-size", "29px").text(regionTitles[1]);

svg.append("line")
	.attr("x1", 657.5).attr("x2", 657.5)
	.attr("y1", 66).attr("y2", 700)
	.attr("stroke", "#444")
	.attr("stroke-width", 1)
	.attr("stroke-dasharray", "6,5");

// legend
var legendX = [131, 417, 727, 948];
var legendY = [775, 809];
var legendCol = [0, 0, 1, 1, 2, 2, 3];
var legendRow = [0, 1, 0, 1, 0, 1, 0];
var legendItems = seriesNames.map(function(n, k) {
	return { name: n, color: seriesColors[k], width: 1.6, col: legendCol[k], row: legendRow[k] };
});
legendItems.push({ name: "MEAN", color: meanColor, width: 3, col: 3, row: 1 });

var legend = svg.append("g");
legendItems.forEach(function(it) {
	var lx = legendX[it.col], ly = legendY[it.row];
	legend.append("line")
		.attr("x1", lx).attr("x2", lx + 65)
		.attr("y1", ly).attr("y2", ly)
		.attr("stroke", it.color)
		.attr("stroke-width", it.width);
	legend.append("text")
		.attr("x", lx + 74)
		.attr("y", ly + 10.5)
		.style("font-size", "29.5px")
		.text(it.name);
});
</script>
</body>
</html>
